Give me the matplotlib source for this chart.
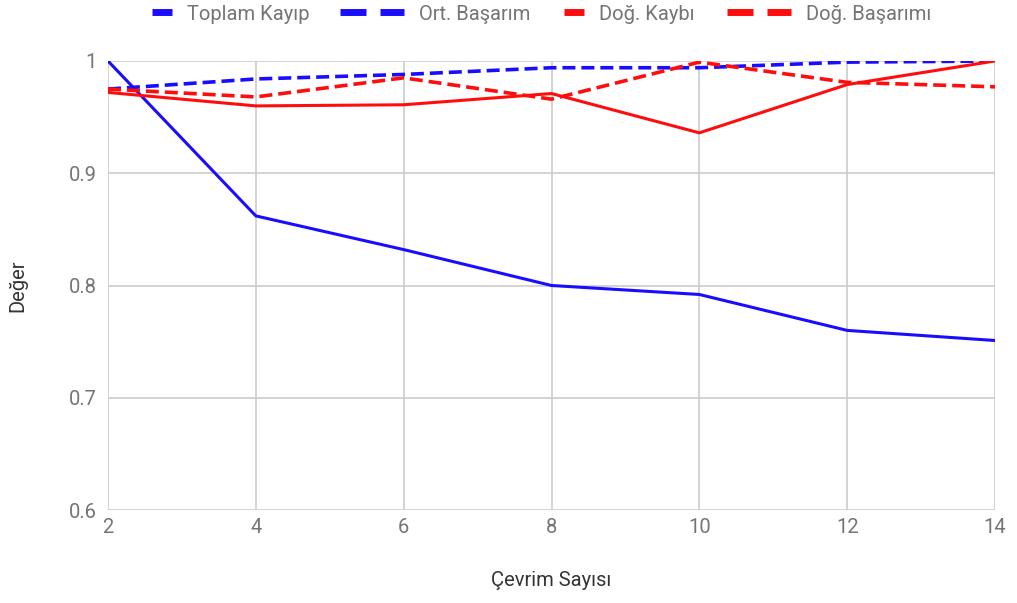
import matplotlib
matplotlib.use("Agg")
import matplotlib.pyplot as plt
from matplotlib.lines import Line2D

plt.rcParams['font.family'] = ['Roboto', 'DejaVu Sans']

cycles = [2, 4, 6, 8, 10, 12, 14]
toplam_kayip = [1.0, 0.862, 0.832, 0.800, 0.792, 0.760, 0.751]
ort_basarim = [0.975, 0.984, 0.988, 0.994, 0.994, 0.999, 1.0]
dog_kaybi = [0.972, 0.960, 0.961, 0.971, 0.936, 0.979, 1.0]
dog_basarimi = [0.975, 0.968, 0.985, 0.966, 0.999, 0.981, 0.977]

x_ticks = [2, 4, 6, 8, 10, 12, 14]
y_ticks = [0.6, 0.7, 0.8, 0.9, 1.0]
y_tick_labels = ["0.6", "0.7", "0.8", "0.9", "1"]

BLUE = "#1a0dff"
RED = "#ff0d0d"
GRID = "#cccccc"
TEXT = "#757575"
LABEL = "#333333"
FS = 14.5

W, H = 1017, 603
fig = plt.figure(figsize=(W / 100, H / 100), dpi=100)
ax = fig.add_axes([108 / W, 1 - 510 / H, (995 - 108) / W, (510 - 61) / H])

lw = 2.2
dlw = 2.6
dash = (0, (3.6, 1.65))
ax.plot(cycles, toplam_kayip, color=BLUE, lw=lw, solid_joinstyle='round')
ax.plot(cycles, ort_basarim, color=BLUE, lw=dlw, linestyle=dash)
ax.plot(cycles, dog_kaybi, color=RED, lw=lw, solid_joinstyle='round')
ax.plot(cycles, dog_basarimi, color=RED, lw=dlw, linestyle=dash)

ax.set_xlim(2, 14)
ax.set_ylim(0.6, 1.0)
ax.set_xticks(x_ticks)
ax.set_yticks(y_ticks)
ax.set_yticklabels(y_tick_labels)
ax.grid(True, color=GRID, lw=1.2)
ax.set_axisbelow(True)
for s in ax.spines.values():
    s.set_visible(False)
ax.tick_params(axis='both', length=0, labelsize=FS, labelcolor=TEXT)
ax.tick_params(axis='x', pad=6)
ax.tick_params(axis='y', pad=8)

ax.set_xlabel("Çevrim Sayısı", fontsize=FS, color=LABEL, labelpad=24)
ax.set_ylabel("Değer", fontsize=FS, color=LABEL, labelpad=30)


# Legend row along the top, drawn in figure pixel coordinates
def fx(px):
    return px / W


legend_y = 1 - 12 / H
entries = [
    ("Toplam Kayıp", BLUE, False, 152, 187),
    ("Ort. Başarım", BLUE, True, 340, 419),
    ("Doğ. Kaybı", RED, False, 564, 599),
    ("Doğ. Başarımı", RED, True, 727, 806),
]
for label, color, dashed, hx, tx in entries:
    if dashed:
        segs = [(hx, hx + 26), (hx + 40, hx + 64)]
    else:
        segs = [(hx, hx + 20)]
    for a, b in segs:
        fig.add_artist(Line2D([fx(a), fx(b)], [legend_y, legend_y], color=color,
                              lw=5, solid_capstyle='butt',
                              transform=fig.transFigure))
    fig.text(fx(tx), legend_y, label, fontsize=FS, color=TEXT,
             ha='left', va='center_baseline')

fig.savefig("out.png", dpi=100, facecolor="white")
